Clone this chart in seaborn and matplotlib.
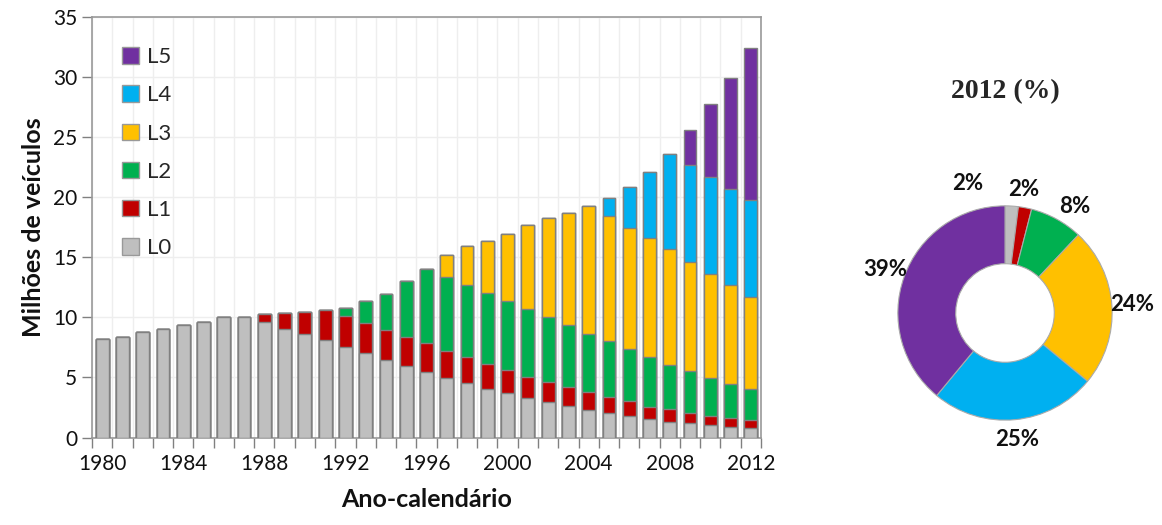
import numpy as np
import pandas as pd
import matplotlib.pyplot as plt
import seaborn as sns
from matplotlib.patches import Patch

sns.set_theme(style="white")
plt.rcParams['font.family'] = ['Lato', 'DejaVu Sans']

# Data (millions of vehicles per class, 1980-2012)
years = list(range(1980, 2013))
l0 = [8.2, 8.4, 8.75, 9.06, 9.4, 9.6, 10.0, 10.0, 9.6, 9.06, 8.64, 8.08, 7.55, 7.03, 6.47, 5.92,
      5.42, 4.94, 4.53, 4.03, 3.69, 3.28, 2.94, 2.61, 2.28, 2.08, 1.75, 1.56, 1.33, 1.22, 1.0, 0.89, 0.75]
l1 = [0, 0, 0, 0, 0, 0, 0, 0, 0.65, 1.27, 1.81, 2.56, 2.53, 2.53, 2.45, 2.44,
      2.41, 2.25, 2.14, 2.11, 1.89, 1.75, 1.67, 1.58, 1.47, 1.25, 1.28, 1.02, 1.03, 0.81, 0.83, 0.72, 0.67]
l2 = [0, 0, 0, 0, 0, 0, 0, 0, 0, 0, 0, 0, 0.70, 1.77, 3.02, 4.67,
      6.17, 6.14, 6.02, 5.92, 5.81, 5.70, 5.42, 5.20, 4.89, 4.67, 4.30, 4.11, 3.67, 3.50, 3.14, 2.83, 2.61]
l3 = [0] * 17 + [1.84, 3.23, 4.30, 5.58, 6.99, 8.22, 9.30, 10.67, 10.44, 10.14, 9.95, 9.64, 9.05, 8.64, 8.23, 7.66]
l4 = [0] * 25 + [1.53, 3.36, 5.47, 7.94, 8.09, 8.08, 8.05, 8.06]
l5 = [0] * 29 + [2.89, 6.09, 9.22, 12.64]

classes = ['L0', 'L1', 'L2', 'L3', 'L4', 'L5']
colors = ['#BFBFBF', '#C00000', '#00B050', '#FFC000', '#00B0F0', '#7030A0']
pie_pct = [2, 2, 8, 24, 25, 39]

df = pd.DataFrame({'ano': years, 'L0': l0, 'L1': l1, 'L2': l2, 'L3': l3, 'L4': l4, 'L5': l5})
cum = df[classes].cumsum(axis=1)
cum['ano'] = df['ano']

fig = plt.figure(figsize=(11.62, 5.25), dpi=100)
ax = fig.add_axes([92 / 1162, 87.5 / 525, 669 / 1162, 420.5 / 525])

# stacked bars: draw cumulative totals from the top layer down
for cls, col in reversed(list(zip(classes, colors))):
    sns.barplot(data=cum, x='ano', y=cls, native_scale=True, color=col, width=0.63,
                edgecolor='#808080', linewidth=1, saturation=1, ax=ax, zorder=3)

ax.set_xlim(1979.5, 2012.5)
ax.set_ylim(0, 35)
ax.set_yticks(range(0, 36, 5))
ax.set_xticks(range(1980, 2013, 4))
ax.set_xticks(np.arange(1979.5, 2013, 1), minor=True)
ax.tick_params(axis='x', which='major', length=0, pad=12, labelsize=15, colors='#111111')
ax.tick_params(axis='x', which='minor', length=7, width=1, color='#808080', direction='out', bottom=True)
ax.tick_params(axis='y', length=7, width=1, color='#808080', direction='out', left=True,
               labelsize=15, labelcolor='#111111')
ax.grid(True, which='minor', axis='x', color='#EEEEEE', linewidth=1, zorder=0)
ax.grid(True, which='major', axis='y', color='#EEEEEE', linewidth=1, zorder=0)
for sp in ax.spines.values():
    sp.set_color('#999999')
    sp.set_linewidth(1.2)

ax.set_xlabel('Ano-calendário', fontsize=18, fontweight='bold', labelpad=10, color='#111111')
ax.set_ylabel('Milhões de veículos', fontsize=18, fontweight='bold', labelpad=6, color='#111111')

handles = [Patch(facecolor=c, edgecolor='#999999', label=l) for l, c in zip(classes, colors)][::-1]
ax.legend(handles=handles, loc='upper left', bbox_to_anchor=(0.025, 0.96), frameon=False,
          fontsize=16, handlelength=0.75, handleheight=0.75, labelspacing=0.82, handletextpad=0.35,
          borderaxespad=0.2)

# donut for 2012
ax2 = fig.add_axes([855 / 1162, 62 / 525, 300 / 1162, 300 / 525])
wedges, texts = ax2.pie(pie_pct, colors=colors, startangle=90, counterclock=False,
                        labels=[f'{p}%' for p in pie_pct], labeldistance=1.19,
                        wedgeprops=dict(width=0.54, edgecolor='#AAAAAA', linewidth=0.8),
                        textprops=dict(fontsize=16, fontweight='bold', color='#111111'))
for t in texts:
    t.set_ha('center')
    t.set_va('center')
# keep the two small labels apart
x0, y0 = texts[0].get_position()
texts[0].set_position((x0 - 0.42, y0 + 0.02))
x1, y1 = texts[1].get_position()
texts[1].set_position((x1 - 0.05, y1 - 0.02))
x2, y2 = texts[2].get_position()
texts[2].set_position((x2 + 0.08, y2 - 0.05))
ax2.set_xlim(-1.4, 1.4)
ax2.set_ylim(-1.4, 1.4)
ax2.set_aspect('equal')
ax2.axis('off')

fig.text(1005 / 1162, 1 - 92 / 525, '2012 (%)', ha='center', va='center', fontsize=20,
         fontweight='bold', family='Liberation Serif')

plt.savefig('out.png', dpi=100)
